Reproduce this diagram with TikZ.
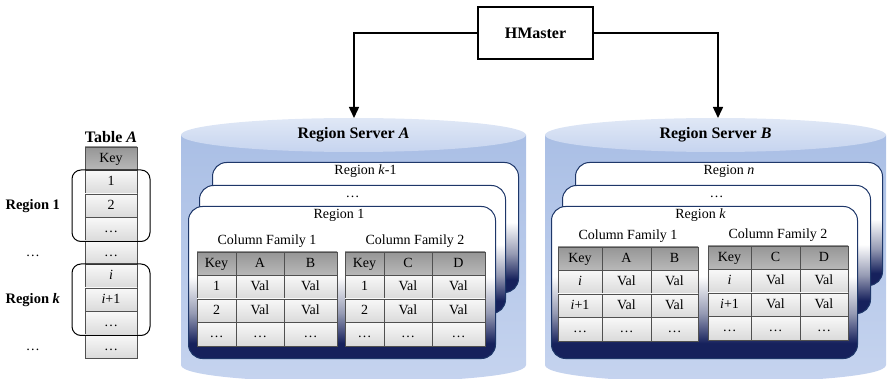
\documentclass[tikz,border=0pt]{standalone}
\usepackage{fontspec}
\setmainfont{Liberation Serif}
\usetikzlibrary{arrows.meta,positioning,fit}

\definecolor{cylbody}{RGB}{170,191,229}
\definecolor{cyllight}{RGB}{198,212,239}
\definecolor{cyltop}{RGB}{224,232,246}
\definecolor{cardline}{RGB}{30,55,105}
\definecolor{cardnavy}{RGB}{22,33,92}
\definecolor{cardmid}{RGB}{150,155,180}
\definecolor{cellline}{RGB}{80,80,80}
\definecolor{headdark}{RGB}{150,150,150}
\definecolor{headlight}{RGB}{185,185,185}
\definecolor{bodylight}{RGB}{248,248,248}
\definecolor{bodydark}{RGB}{218,218,218}

\pgfdeclareverticalshading{cardshade}{100bp}{color(0bp)=(cardnavy); color(30bp)=(cardnavy);
  color(40bp)=(cardmid); color(52bp)=(white); color(100bp)=(white)}

\tikzset{
  cell/.style={draw=cellline, line width=0.7pt, minimum height=23.5pt, inner sep=0pt,
    outer sep=0pt, text height=9.5pt, text depth=2.5pt},
  head cell/.style={cell, top color=headdark, bottom color=headlight},
  body cell/.style={cell, top color=bodylight, bottom color=bodydark},
  region card/.style={draw=cardline, line width=1pt, rounded corners=14pt, anchor=north west,
    inner sep=0pt, shading=cardshade},
  card label/.style={text height=10pt, text depth=3pt, inner sep=2pt},
  bracket/.style={draw, line width=1pt, rounded corners=9pt, inner xsep=13pt, inner ysep=0.5pt},
  link/.style={line width=1.5pt, -{Triangle[length=11pt,width=10pt]}},
  title/.style={font=\fontsize{16}{18}\selectfont\bfseries}
}

% one column family: name, x, y, key width, col width, col labels, row keys
\newcommand{\cftable}[9]{%
  \node[head cell, minimum width=#4pt, anchor=north west] (#1k) at (#2,#3) {Key};
  \node[head cell, minimum width=#5pt, right=0pt of #1k] (#1a) {#6};
  \node[head cell, minimum width=140pt-#4pt-#5pt, right=0pt of #1a] (#1b) {#7};
  \node[body cell, minimum width=#4pt, below=0pt of #1k] (#1k1) {#8};
  \node[body cell, minimum width=#5pt, right=0pt of #1k1] (#1a1) {Val};
  \node[body cell, minimum width=140pt-#4pt-#5pt, right=0pt of #1a1] (#1b1) {Val};
  \node[body cell, minimum width=#4pt, below=0pt of #1k1] (#1k2) {#9};
  \node[body cell, minimum width=#5pt, right=0pt of #1k2] (#1a2) {Val};
  \node[body cell, minimum width=140pt-#4pt-#5pt, right=0pt of #1a2] (#1b2) {Val};
  \node[body cell, minimum width=#4pt, below=0pt of #1k2] (#1k3) {\dots};
  \node[body cell, minimum width=#5pt, right=0pt of #1k3] (#1a3) {\dots};
  \node[body cell, minimum width=140pt-#4pt-#5pt, right=0pt of #1a3] (#1b3) {\dots};
}

\begin{document}
\begin{tikzpicture}[x=1pt,y=-1pt,font=\fontsize{14}{16}\selectfont]
  \useasboundingbox (0,0) rectangle (889,379);

  % region servers
  \shade[top color=cylbody, bottom color=cyllight]
    (181,135) -- (181,365) .. controls (181,388) and (526,388) .. (526,365) -- (526,135) -- cycle;
  \shade[top color=cyltop, bottom color=cyllight] (353.5,135) ellipse [x radius=172.5pt, y radius=17pt];
  \shade[top color=cylbody, bottom color=cyllight]
    (545,135) -- (545,365) .. controls (545,388) and (886,388) .. (886,365) -- (886,135) -- cycle;
  \shade[top color=cyltop, bottom color=cyllight] (715.5,135) ellipse [x radius=170.5pt, y radius=17pt];

  \node[title] (srvA) at (353.5,135) {Region Server \textit{A}};
  \node[title] (srvB) at (715.5,135) {Region Server \textit{B}};

  % master
  \node[draw, line width=1.5pt, minimum width=115pt, minimum height=52pt, title] (hm) at (535.5,33) {HMaster};
  \coordinate (inA) at (354,118);
  \coordinate (inB) at (718,118);
  \draw[link] (hm.west) -| (inA);
  \draw[link] (hm.east) -| (inB);

  % regions on server A
  \node[region card, minimum width=306pt, minimum height=130pt] (cardAk) at (212,162) {};
  \node[card label, below=0pt of cardAk.north] {Region \textit{k}-1};
  \node[region card, minimum width=306pt, minimum height=128pt] (cardAd) at (199,185) {};
  \node[card label, below=0pt of cardAd.north] {\dots};
  \node[region card, minimum width=307pt, minimum height=152pt] (cardA1) at (188,206) {};
  \node[card label, below=0pt of cardA1.north, xshift=-3pt] {Region 1};

  \cftable{sAo}{197}{252}{39}{48}{A}{B}{1}{2}
  \cftable{sAt}{345}{252}{39}{48}{C}{D}{1}{2}
  \path (sAok.north west) -- (sAob.north east) node[midway, above=1pt] {Column Family 1};
  \path (sAtk.north west) -- (sAtb.north east) node[midway, above=1pt] {Column Family 2};

  % regions on server B
  \node[region card, minimum width=307pt, minimum height=123pt] (cardBn) at (575,162) {};
  \node[card label, below=0pt of cardBn.north] {Region \textit{n}};
  \node[region card, minimum width=308pt, minimum height=128pt] (cardBd) at (562,185) {};
  \node[card label, below=0pt of cardBd.north] {\dots};
  \node[region card, minimum width=306pt, minimum height=152pt] (cardBk) at (551,206) {};
  \node[card label, below=0pt of cardBk.north, xshift=-4pt] {Region \textit{k}};

  \cftable{sBo}{558}{247}{44}{49}{A}{B}{\textit{i}}{\textit{i}+1}
  \cftable{sBt}{708}{246}{43}{49}{C}{D}{\textit{i}}{\textit{i}+1}
  \path (sBok.north west) -- (sBob.north east) node[midway, above=1pt] {Column Family 1};
  \path (sBtk.north west) -- (sBtb.north east) node[midway, above=1pt] {Column Family 2};

  % table A
  \node[head cell, minimum width=52pt, anchor=north west] (ta0) at (85,147) {Key};
  \node[body cell, minimum width=52pt, below=0pt of ta0] (ta1) {1};
  \node[body cell, minimum width=52pt, below=0pt of ta1] (ta2) {2};
  \node[body cell, minimum width=52pt, below=0pt of ta2] (ta3) {\dots};
  \node[body cell, minimum width=52pt, below=0pt of ta3] (ta4) {\dots};
  \node[body cell, minimum width=52pt, below=0pt of ta4] (ta5) {\textit{i}};
  \node[body cell, minimum width=52pt, below=0pt of ta5] (ta6) {\textit{i}+1};
  \node[body cell, minimum width=52pt, below=0pt of ta6] (ta7) {\dots};
  \node[body cell, minimum width=52pt, below=0pt of ta7] (ta8) {\dots};
  \node[title, above=1pt of ta0] (tabA) {Table \textit{A}};

  \node[bracket, fit=(ta1)(ta3)] (reg1) {};
  \node[bracket, fit=(ta5)(ta7)] (regk) {};
  \node[font=\fontsize{14.5}{16}\selectfont\bfseries, left=8pt of reg1] (lab1) {Region 1};
  \node[font=\fontsize{14.5}{16}\selectfont\bfseries, left=8pt of regk] (labk) {Region \textit{k}};
  \node[text height=9.5pt, text depth=2.5pt] (dots1) at (lab1 |- ta4) {\dots};
  \node[text height=9.5pt, text depth=2.5pt] (dots2) at (labk |- ta8) {\dots};
\end{tikzpicture}
\end{document}
